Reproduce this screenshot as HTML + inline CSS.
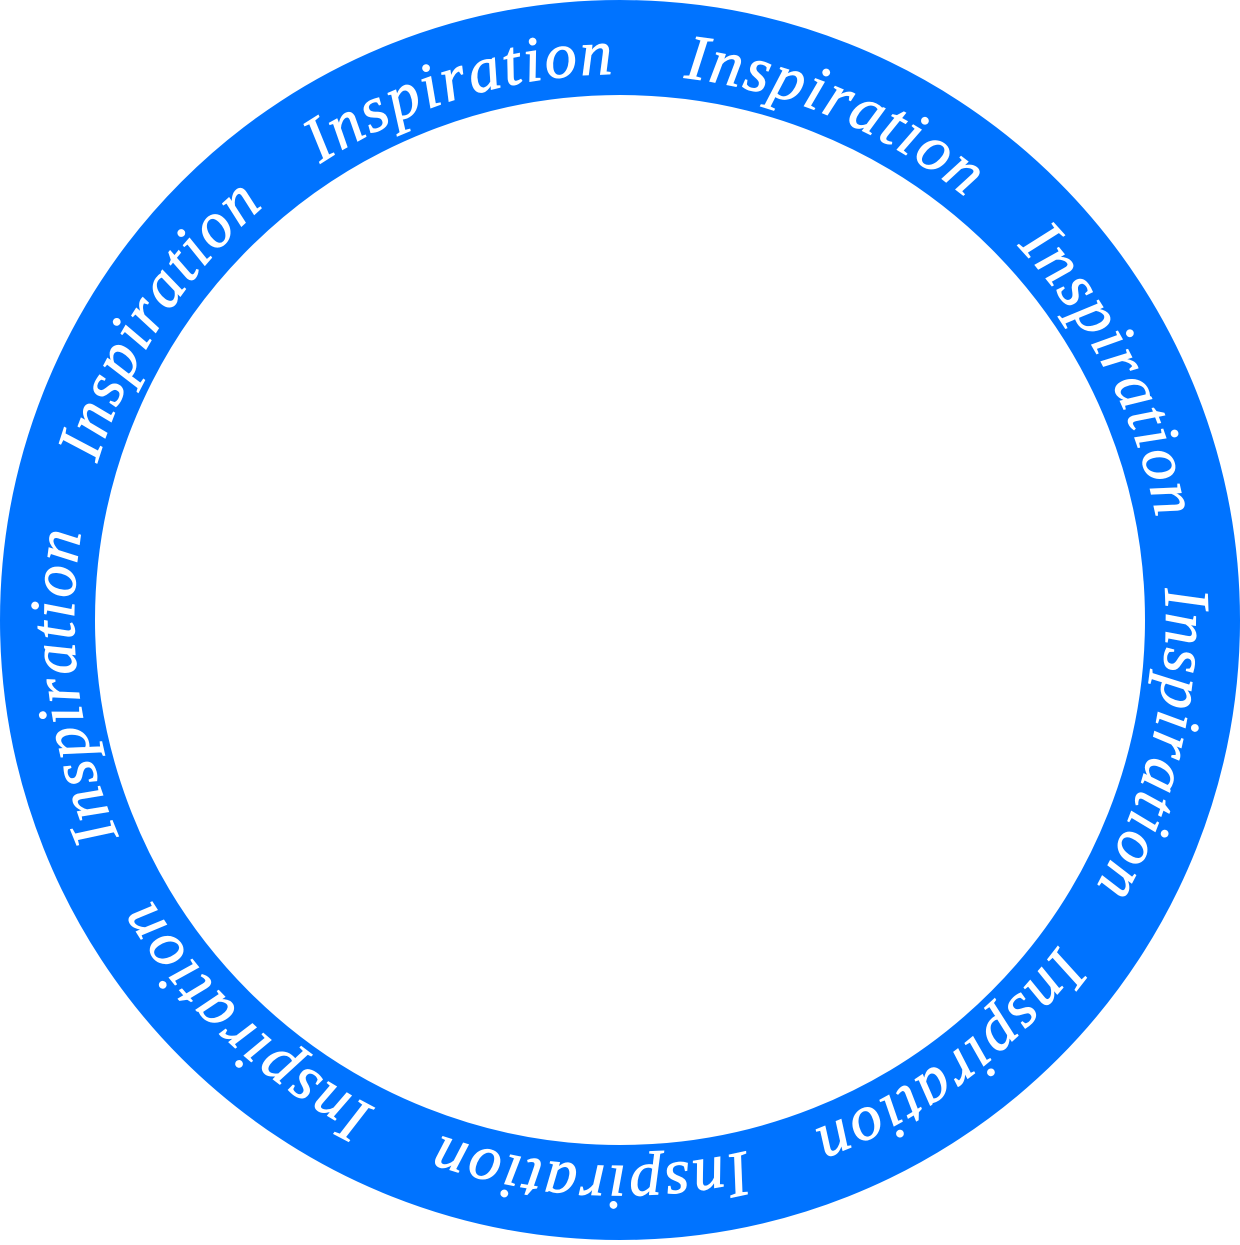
<!DOCTYPE html>
<html><head><style>html,body{margin:0;padding:0;background:#fff}</style></head>
<body>
<svg width="1240" height="1240" viewBox="0 0 1240 1240" xmlns="http://www.w3.org/2000/svg">
<defs>
<path id="p" d="M 620 1166 A 546 546 0 0 1 620 74 A 546 546 0 0 1 620 1166"/>
</defs>
<circle cx="620" cy="620" r="572.5" fill="none" stroke="#0073ff" stroke-width="95"/>
<g style="font-family:'Liberation Serif',serif;font-style:italic;font-size:64px" fill="#fff" stroke="#fff" stroke-width="1">
<g transform="rotate(-17 620 620)"><text><textPath href="#p" startOffset="1715" text-anchor="middle" textLength="310" lengthAdjust="spacing">Inspiration</textPath></text></g>
<g transform="rotate(23 620 620)"><text><textPath href="#p" startOffset="1715" text-anchor="middle" textLength="310" lengthAdjust="spacing">Inspiration</textPath></text></g>
<g transform="rotate(63 620 620)"><text><textPath href="#p" startOffset="1715" text-anchor="middle" textLength="310" lengthAdjust="spacing">Inspiration</textPath></text></g>
<g transform="rotate(103 620 620)"><text><textPath href="#p" startOffset="1715" text-anchor="middle" textLength="310" lengthAdjust="spacing">Inspiration</textPath></text></g>
<g transform="rotate(143 620 620)"><text><textPath href="#p" startOffset="1715" text-anchor="middle" textLength="310" lengthAdjust="spacing">Inspiration</textPath></text></g>
<g transform="rotate(183 620 620)"><text><textPath href="#p" startOffset="1715" text-anchor="middle" textLength="310" lengthAdjust="spacing">Inspiration</textPath></text></g>
<g transform="rotate(223 620 620)"><text><textPath href="#p" startOffset="1715" text-anchor="middle" textLength="310" lengthAdjust="spacing">Inspiration</textPath></text></g>
<g transform="rotate(263 620 620)"><text><textPath href="#p" startOffset="1715" text-anchor="middle" textLength="310" lengthAdjust="spacing">Inspiration</textPath></text></g>
<g transform="rotate(303 620 620)"><text><textPath href="#p" startOffset="1715" text-anchor="middle" textLength="310" lengthAdjust="spacing">Inspiration</textPath></text></g>
</g>
</svg>
</body></html>
